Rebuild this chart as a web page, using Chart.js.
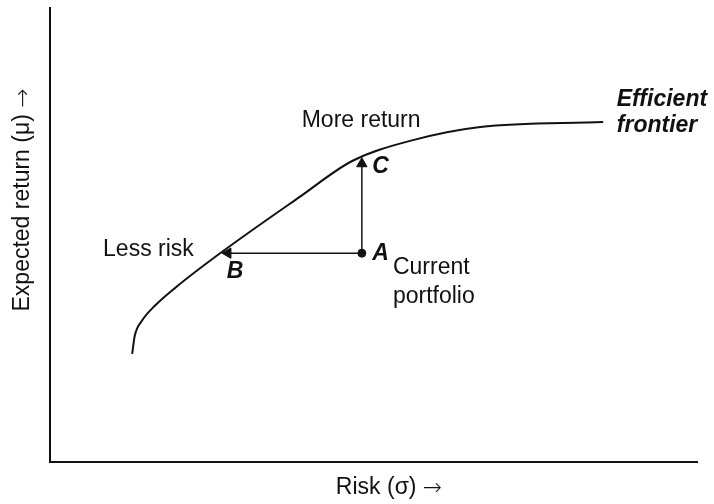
<!DOCTYPE html>
<html>
<head>
<meta charset="utf-8">
<script src="https://cdn.jsdelivr.net/npm/chart.js@4/dist/chart.umd.min.js"></script>
<style>
html,body{margin:0;padding:0;background:#fff;}
#wrap{width:714px;height:504px;position:relative;}
</style>
</head>
<body>
<div id="wrap"><canvas id="c"></canvas></div>
<script>
// Efficient frontier (risk sigma, expected return mu)
const frontierRisk   = [1.27, 1.31, 1.42, 1.62, 1.93, 2.66, 3.86, 4.67, 5.61, 6.65, 8.55];
const frontierReturn = [2.38, 2.78, 3.11, 3.44, 3.83, 4.63, 5.84, 6.63, 7.09, 7.38, 7.49];
// Portfolios
const portfolioNames  = ['A', 'B', 'C'];
const portfolioRisk   = [4.82, 2.75, 4.82];
const portfolioReturn = [4.60, 4.60, 6.57];
// Axis titles
const xTitle = 'Risk (σ)';
const yTitle = 'Expected return (μ)';
const arrowGlyph = '→';

const FONT = "'Liberation Sans', Arial, Helvetica, sans-serif";
const ARROW_FONT = "200 23px 'DejaVu Sans', sans-serif";
const black = '#111';

const frontier = frontierRisk.map((x, i) => ({x, y: frontierReturn[i]}));
const A = {x: portfolioRisk[0], y: portfolioReturn[0]};
const B = {x: portfolioRisk[1], y: portfolioReturn[1]};
const C = {x: portfolioRisk[2], y: portfolioReturn[2]};

const labelPlugin = {
  id: 'labels',
  afterDatasetsDraw(chart) {
    const {ctx, scales: {x, y}} = chart;
    const put = (text, dx, dy, font) => {
      ctx.save();
      ctx.fillStyle = black;
      ctx.font = font;
      ctx.textAlign = 'left';
      ctx.textBaseline = 'middle';
      ctx.fillText(text, x.getPixelForValue(dx), y.getPixelForValue(dy));
      ctx.restore();
    };
    const reg = '23px ' + FONT;
    const bi = 'italic bold 23px ' + FONT;
    put('More return', 3.89, 7.51, reg);
    put('Efficient', 8.76, 7.98, bi);
    put('frontier', 8.76, 7.40, bi);
    put('Less risk', 0.82, 4.67, reg);
    put('Current', 5.30, 4.27, reg);
    put('portfolio', 5.30, 3.65, reg);
    put(portfolioNames[0], 4.98, 4.60, bi);
    put(portfolioNames[1], 2.73, 4.20, bi);
    put(portfolioNames[2], 4.98, 6.50, bi);

    const drawTitle = (text, cx, cy, rot) => {
      ctx.save();
      ctx.translate(cx, cy);
      ctx.rotate(rot);
      ctx.fillStyle = black;
      ctx.textBaseline = 'middle';
      ctx.textAlign = 'left';
      ctx.font = '23px ' + FONT;
      const w1 = ctx.measureText(text + ' ').width;
      ctx.font = ARROW_FONT;
      const w2 = ctx.measureText(arrowGlyph).width;
      const start = -(w1 + w2) / 2;
      ctx.font = '23px ' + FONT;
      ctx.fillText(text + ' ', start, 0);
      ctx.font = ARROW_FONT;
      ctx.fillText(arrowGlyph, start + w1, 1);
      ctx.restore();
    };
    drawTitle(xTitle, 389, 488, 0);
    drawTitle(yTitle, 23, 200, -Math.PI / 2);
  }
};

new Chart(document.getElementById('c'), {
  type: 'scatter',
  data: {
    datasets: [
      {
        label: 'Efficient frontier',
        data: frontier,
        showLine: true,
        borderColor: black,
        borderWidth: 2,
        pointRadius: 0,
        cubicInterpolationMode: 'monotone',
        fill: false
      },
      {
        label: 'More return',
        data: [A, C],
        showLine: true,
        borderColor: black,
        backgroundColor: black,
        borderWidth: 1.5,
        pointStyle: 'triangle',
        pointRadius: [0, 6],
        rotation: 0,
        pointBorderWidth: 1
      },
      {
        label: 'Less risk',
        data: [A, B],
        showLine: true,
        borderColor: black,
        backgroundColor: black,
        borderWidth: 1.5,
        pointStyle: 'triangle',
        pointRadius: [0, 6],
        rotation: -90,
        pointBorderWidth: 1
      },
      {
        label: 'Current portfolio',
        data: [A],
        showLine: false,
        borderColor: black,
        backgroundColor: black,
        pointRadius: 4
      }
    ]
  },
  options: {
    responsive: true,
    maintainAspectRatio: false,
    animation: false,
    layout: {padding: {top: 8, right: 17, bottom: 42, left: 50}},
    plugins: {legend: {display: false}, tooltip: {enabled: false}},
    scales: {
      x: {
        type: 'linear', min: 0, max: 10,
        grid: {display: false, drawTicks: false},
        ticks: {display: false},
        border: {display: true, color: black, width: 2}
      },
      y: {
        type: 'linear', min: 0, max: 10,
        grid: {display: false, drawTicks: false},
        ticks: {display: false},
        border: {display: true, color: black, width: 2}
      }
    }
  },
  plugins: [labelPlugin]
});
</script>
</body>
</html>
